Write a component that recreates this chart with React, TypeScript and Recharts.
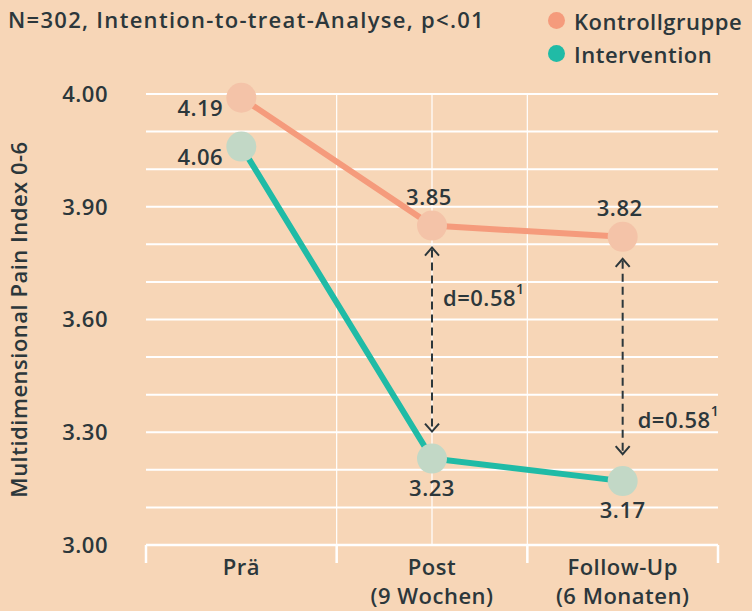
import React from "react"
import { LineChart, Line, XAxis, YAxis, CartesianGrid, LabelList, ReferenceLine } from "recharts"

const categories = ["Prä", "Post\n(9 Wochen)", "Follow-Up\n(6 Monaten)"]
const kontrollgruppe = [4.19, 3.85, 3.82]
const intervention = [4.06, 3.23, 3.17]

// the source axis is drawn on a linear scale but labels the top line "4.00"
const yTicks = [3.0, 3.1, 3.2, 3.3, 3.4, 3.5, 3.6, 3.7, 3.8, 3.9, 4.0, 4.1, 4.2]
const yLabelTicks = [3.0, 3.3, 3.6, 3.9, 4.2]
const yTickLabels = ["3.00", "3.30", "3.60", "3.90", "4.00"]

const xDomain = [-0.5, 2.5]
const xBounds = [-0.5, 0.5, 1.5, 2.5]
const xGridAt = [0.5, 1, 1.5]

const effectAt = [1, 2]
const effectSizes = ["d=0.58", "d=0.58"]

const title = "N=302, Intention-to-treat-Analyse, p<.01"
const yTitle = "Multidimensional Pain Index 0-6"

const series = [
    { key: "kontrollgruppe", name: "Kontrollgruppe", color: "#f59b7c", halo: "#f4c3a8" },
    { key: "intervention", name: "Intervention", color: "#20bba6", halo: "#c2d8c6" },
]

const bg = "#f7d6b7"
const ink = "#2c373b"
const font = "'Open Sans', 'Noto Sans', sans-serif"
const txt = { fill: ink, fontSize: 22, fontWeight: 600, fontFamily: font, letterSpacing: 0.5 }

const data = categories.map((c, i) => ({
    x: i,
    label: c,
    kontrollgruppe: kontrollgruppe[i],
    intervention: intervention[i],
}))

function XTick(props: any) {
    const { x, y, payload } = props
    const lines = String(categories[payload.value] ?? "").split("\n")
    return (
        <text x={x} y={y} textAnchor="middle" {...txt}>
            {lines.map((l, i) => (
                <tspan key={i} x={x} dy={i === 0 ? 22 : 29}>
                    {l}
                </tspan>
            ))}
        </text>
    )
}

function valueLabel(seriesIdx: number) {
    return function ValueLabel(p: any) {
        const x = p.x ?? p.viewBox?.x
        const y = p.y ?? p.viewBox?.y
        let tx = x
        let ty = y
        if (p.index === 0) {
            tx = x - 41
            ty = y + 9
        } else if (seriesIdx === 0) {
            tx = x - 3
            ty = y - 30
        } else {
            ty = y + 28
        }
        return (
            <text x={tx} y={ty} textAnchor="middle" dominantBaseline="central" {...txt}>
                {Number(p.value).toFixed(2)}
            </text>
        )
    }
}

function arrowShape(i: number) {
    return function Arrow(p: any) {
        const x = p.x1
        const top = Math.min(p.y1, p.y2) + 22
        const bot = Math.max(p.y1, p.y2) - 27
        const ly = i === 0 ? top + (bot - top) * 0.27 : top + (bot - top) * 0.82
        return (
            <g>
                <line x1={x} y1={top + 2} x2={x} y2={bot - 2} stroke={ink} strokeWidth={2} strokeDasharray="8 5" />
                <polyline points={`${x - 7},${top + 8} ${x},${top} ${x + 7},${top + 8}`} fill="none" stroke={ink} strokeWidth={2} />
                <polyline points={`${x - 7},${bot - 8} ${x},${bot} ${x + 7},${bot - 8}`} fill="none" stroke={ink} strokeWidth={2} />
                <text x={x + (i === 0 ? 11 : 15)} y={ly} dominantBaseline="central" {...txt}>
                    {effectSizes[i]}
                    <tspan dy={-9} fontSize={14}>1</tspan>
                </text>
            </g>
        )
    }
}

function tickMark(p: any) {
    return <line x1={p.x1} y1={p.y1} x2={p.x2} y2={p.y1 + 18} stroke="#ffffff" strokeWidth={2.5} />
}

function YTitle(p: any) {
    const vb = p.viewBox || { x: 0, y: 94, width: 146, height: 451 }
    const cx = vb.x + 18
    const cy = vb.y + vb.height / 2
    return (
        <text x={cx} y={cy} transform={`rotate(-90 ${cx} ${cy})`} textAnchor="middle" dominantBaseline="central" {...txt}>
            {yTitle}
        </text>
    )
}

function LegendBox() {
    return (
        <div style={{ position: "absolute", left: 548, top: 4, fontFamily: font, fontSize: 22, fontWeight: 600, letterSpacing: 0.5, color: ink, whiteSpace: "nowrap" }}>
            {series.map((s) => (
                <div key={s.key} style={{ display: "flex", alignItems: "center", height: 33 }}>
                    <span style={{ width: 17, height: 17, borderRadius: "50%", background: s.color, marginRight: 9, display: "inline-block" }} />
                    {s.name}
                </div>
            ))}
        </div>
    )
}

export default function App() {
    return (
        <div style={{ position: "relative", width: 752, height: 611, background: bg, overflow: "hidden" }}>
            <style>{"body{margin:0}"}</style>
            <LineChart width={752} height={611} data={data} margin={{ top: 94, right: 34, bottom: 0, left: 0 }}>
                <CartesianGrid xAxisId="cat" vertical={false} stroke="#ffffff" strokeWidth={2} />
                <CartesianGrid
                    xAxisId="cat"
                    horizontal={false}
                    stroke="#ffffff"
                    strokeWidth={1.2}
                    verticalCoordinatesGenerator={({ offset }: any) =>
                        xGridAt.map((v) => offset.left + ((v - xDomain[0]) / (xDomain[1] - xDomain[0])) * offset.width)
                    }
                />
                <XAxis
                    xAxisId="cat"
                    dataKey="x"
                    type="number"
                    domain={xDomain}
                    ticks={[0, 1, 2]}
                    interval={0}
                    height={66}
                    axisLine={{ stroke: "#ffffff", strokeWidth: 2.5 }}
                    tickLine={false}
                    tick={<XTick />}
                />
                <YAxis
                    type="number"
                    domain={[3.0, 4.2]}
                    ticks={yTicks}
                    interval={0}
                    width={146}
                    axisLine={false}
                    tickLine={false}
                    tickMargin={32}
                    tick={txt}
                    tickFormatter={(v: number) => {
                        const k = yLabelTicks.findIndex((t) => Math.abs(t - v) < 1e-6)
                        return k >= 0 ? yTickLabels[k] : ""
                    }}
                    label={{ position: "center", content: <YTitle /> }}
                />
                {xBounds.map((b) => (
                    <ReferenceLine
                        key={"b" + b}
                        xAxisId="cat"
                        ifOverflow="visible"
                        segment={[
                            { x: b, y: 3.0 },
                            { x: b, y: 3.0 },
                        ]}
                        shape={tickMark}
                    />
                ))}
                {effectAt.map((xi, i) => (
                    <ReferenceLine
                        key={"eff" + i}
                        xAxisId="cat"
                        segment={[
                            { x: xi, y: kontrollgruppe[xi] },
                            { x: xi, y: intervention[xi] },
                        ]}
                        shape={arrowShape(i)}
                    />
                ))}
                {series.map((s) => (
                    <Line
                        key={s.key + "-halo"}
                        xAxisId="cat"
                        dataKey={s.key}
                        stroke="none"
                        legendType="none"
                        isAnimationActive={false}
                        dot={(p: any) => <circle key={p.index} cx={p.cx} cy={p.cy} r={15} fill={s.halo} />}
                        activeDot={false}
                    />
                ))}
                {series.map((s, si) => (
                    <Line
                        key={s.key}
                        xAxisId="cat"
                        dataKey={s.key}
                        name={s.name}
                        stroke={s.color}
                        strokeWidth={6}
                        strokeLinecap="round"
                        dot={false}
                        activeDot={false}
                        isAnimationActive={false}
                    >
                        <LabelList dataKey={s.key} content={valueLabel(si)} />
                    </Line>
                ))}
            </LineChart>
            <div style={{ position: "absolute", left: 8, top: 4, fontFamily: font, fontSize: 22, fontWeight: 600, letterSpacing: 1.3, color: ink, whiteSpace: "nowrap" }}>
                {title}
            </div>
            <LegendBox />
        </div>
    )
}
